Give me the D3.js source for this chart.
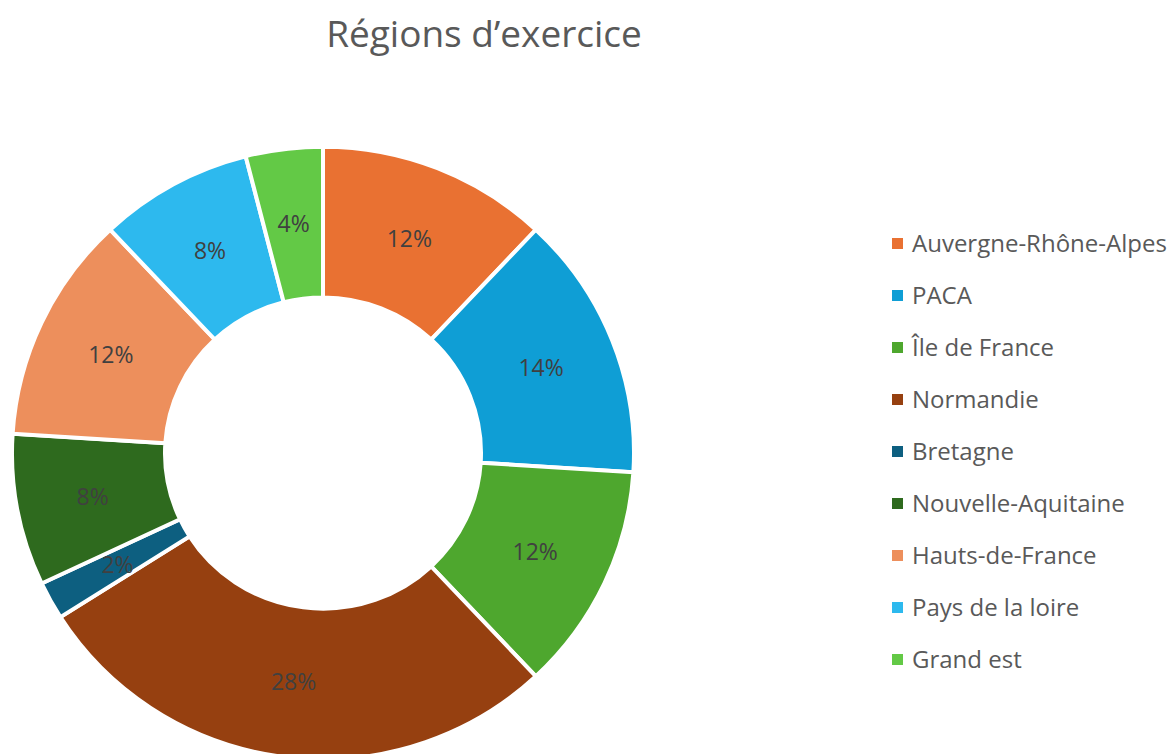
<!DOCTYPE html>
<html><head><meta charset="utf-8">
<script src="https://cdn.jsdelivr.net/npm/d3@7"></script>
<style>body{margin:0;background:#fff}svg{display:block}</style>
</head><body>
<svg id="c" width="1169" height="754"></svg>
<script>
const categories = ["Auvergne-Rhône-Alpes","PACA","Île de France","Normandie","Bretagne","Nouvelle-Aquitaine","Hauts-de-France","Pays de la loire","Grand est"];
const values = [12,14,12,28,2,8,12,8,4];
const colors = ["#E97132","#0F9ED5","#4EA72E","#964010","#0D5F80","#2E6A1E","#ED8F5C","#2DB9EE","#63C946"];
const title = "Régions d’exercice";

const svg = d3.select("#c");
const font = "'Open Sans', 'Noto Sans', sans-serif";
svg.append("text").attr("x",484).attr("y",47).attr("text-anchor","middle")
  .attr("font-family",font).attr("font-size",37).attr("fill","#595959").text(title);

const cx=323, cy=453, R=311, r0=158, sy=0.985;
const pie = d3.pie().sort(null).value(d=>d)(values);
const arc = d3.arc().innerRadius(r0).outerRadius(R);
const g = svg.append("g").attr("transform",`translate(${cx},${cy}) scale(1,${sy})`);
g.selectAll("path").data(pie).join("path").attr("d",arc)
  .attr("fill",(d,i)=>colors[i]).attr("stroke","#fff").attr("stroke-width",4).attr("stroke-linejoin","miter");
const total = d3.sum(values);
const gl = svg.append("g").attr("transform",`translate(${cx},${cy})`);
gl.selectAll("text").data(pie).join("text")
  .attr("transform",d=>{const c=arc.centroid(d);return `translate(${c[0]},${c[1]*sy})`;})
  .attr("text-anchor","middle").attr("dy","0.36em")
  .attr("font-family",font).attr("font-size",23).attr("fill","#404040")
  .text(d=>Math.round(d.data/total*100)+"%");

const leg = svg.append("g");
const ly = d3.scalePoint().domain(categories).range([243,659]);
categories.forEach((c,i)=>{
  const y = ly(c);
  leg.append("rect").attr("x",892).attr("y",y-5).attr("width",11).attr("height",11).attr("fill",colors[i]);
  leg.append("text").attr("x",912).attr("y",y).attr("dy","0.36em")
    .attr("font-family",font).attr("font-size",24).attr("fill","#595959").text(c);
});
</script>
</body></html>
